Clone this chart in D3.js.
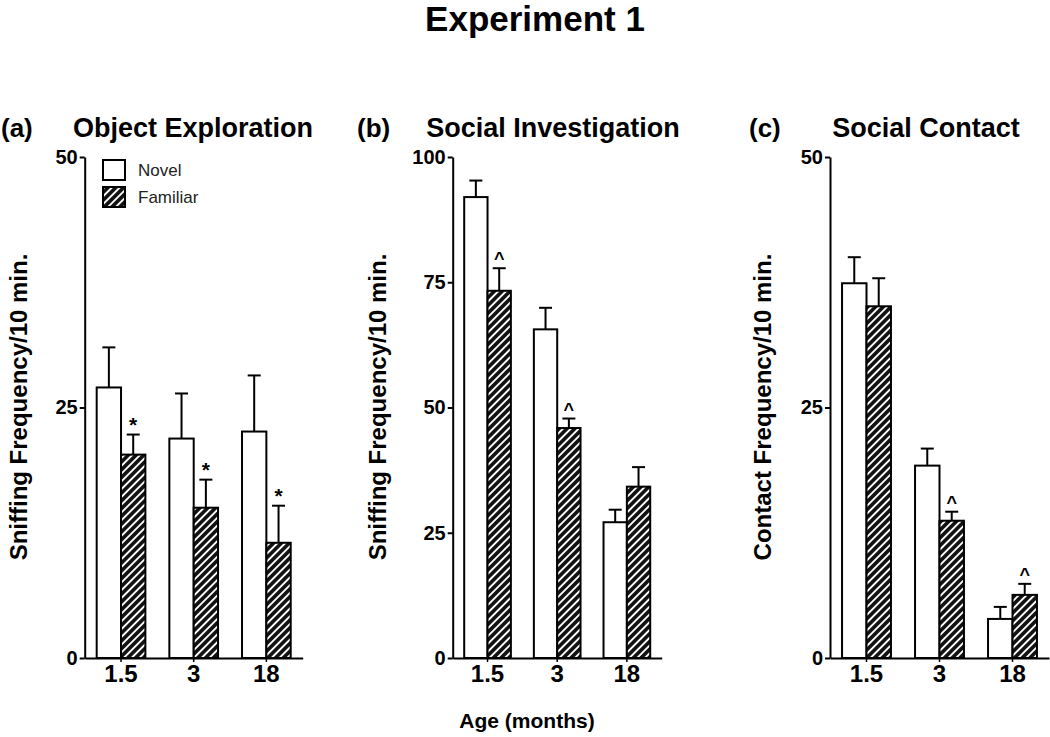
<!DOCTYPE html>
<html><head><meta charset="utf-8">
<script src="https://cdn.jsdelivr.net/npm/d3@7"></script>
<style>body{margin:0;background:#fff}svg{display:block}text{font-family:"Liberation Sans",Arial,sans-serif}</style>
</head><body><svg id="c" width="1050" height="737"></svg>
<script>
const categories = ["1.5", "3", "18"];
const seriesNames = ["Novel", "Familiar"];
// (a) Object Exploration
const objNovel = [27.0, 21.9, 22.6];
const objNovelErr = [4.0, 4.5, 5.6];
const objFamiliar = [20.3, 15.0, 11.5];
const objFamiliarErr = [2.0, 2.8, 3.7];
const objMarks = ["*", "*", "*"];
const objTicks = [0, 25, 50];
// (b) Social Investigation
const invNovel = [92.0, 65.6, 27.1];
const invNovelErr = [3.3, 4.3, 2.5];
const invFamiliar = [73.3, 45.9, 34.2];
const invFamiliarErr = [4.5, 1.9, 3.9];
const invMarks = ["^", "^", ""];
const invTicks = [0, 25, 50, 75, 100];
// (c) Social Contact
const conNovel = [37.4, 19.2, 3.9];
const conNovelErr = [2.6, 1.7, 1.2];
const conFamiliar = [35.1, 13.7, 6.3];
const conFamiliarErr = [2.8, 0.9, 1.1];
const conMarks = ["", "^", "^"];
const conTicks = [0, 25, 50];

const svg = d3.select("#c");
const defs = svg.append("defs");
const pat = defs.append("pattern").attr("id","hatch").attr("patternUnits","userSpaceOnUse")
  .attr("width",5.5).attr("height",5.5).attr("patternTransform","rotate(45)");
pat.append("rect").attr("width",5.5).attr("height",5.5).attr("fill","#111");
pat.append("line").attr("x1",2.75).attr("x2",2.75).attr("y1",-1).attr("y2",7).attr("stroke","#fff").attr("stroke-width",1.9);

const yTop = 157, yBot = 658;

svg.append("text").attr("x",535).attr("y",31).attr("text-anchor","middle")
  .attr("font-size",35).attr("font-weight","bold").text("Experiment 1");

svg.append("text").attr("x",527).attr("y",728).attr("text-anchor","middle")
  .attr("font-size",21).attr("font-weight","bold").text("Age (months)");

const panels = [
  {tag:"(a)", tagX:1, title:"Object Exploration", titleX:193, axisX:84.7, width:218, max:50, ticks:objTicks,
   novel:objNovel, novelErr:objNovelErr, fam:objFamiliar, famErr:objFamiliarErr, marks:objMarks,
   ylabel:"Sniffing Frequency/10 min.", ylabelX:27, legend:true},
  {tag:"(b)", tagX:357, title:"Social Investigation", titleX:553, axisX:452.7, width:209, max:100, ticks:invTicks,
   novel:invNovel, novelErr:invNovelErr, fam:invFamiliar, famErr:invFamiliarErr, marks:invMarks,
   ylabel:"Sniffing Frequency/10 min.", ylabelX:386, legend:false},
  {tag:"(c)", tagX:749, title:"Social Contact", titleX:926, axisX:830, width:219, max:50, ticks:conTicks,
   novel:conNovel, novelErr:conNovelErr, fam:conFamiliar, famErr:conFamiliarErr, marks:conMarks,
   ylabel:"Contact Frequency/10 min.", ylabelX:771, legend:false}
];

panels.forEach(p => {
  const g = svg.append("g");
  g.append("text").attr("x",p.tagX).attr("y",137).attr("font-size",26).attr("font-weight","bold").text(p.tag);
  g.append("text").attr("x",p.titleX).attr("y",137).attr("text-anchor","middle").attr("font-size",27).attr("font-weight","bold").text(p.title);

  const x = d3.scaleBand().domain(categories).range([p.axisX, p.axisX + p.width]).paddingInner(0.33).paddingOuter(0.165);
  const xs = d3.scaleBand().domain(seriesNames).range([0, x.bandwidth()]);
  const y = d3.scaleLinear().domain([0, p.max]).range([yBot, yTop]);

  const rows = categories.map((c,i) => [
    {c, s:"Novel", v:p.novel[i], e:p.novelErr[i], m:""},
    {c, s:"Familiar", v:p.fam[i], e:p.famErr[i], m:p.marks[i]}
  ]).flat();

  // error bars (behind bars)
  const eg = g.append("g").attr("stroke","#000").attr("stroke-width",2);
  rows.forEach(d => {
    const cx = x(d.c) + xs(d.s) + xs.bandwidth()/2;
    eg.append("line").attr("x1",cx).attr("x2",cx).attr("y1",y(d.v)).attr("y2",y(d.v+d.e));
    eg.append("line").attr("x1",cx-6.5).attr("x2",cx+6.5).attr("y1",y(d.v+d.e)).attr("y2",y(d.v+d.e));
  });

  g.append("g").selectAll("rect").data(rows).join("rect")
    .attr("x", d => x(d.c) + xs(d.s))
    .attr("y", d => y(d.v))
    .attr("width", xs.bandwidth())
    .attr("height", d => y(0) - y(d.v))
    .attr("fill", d => d.s === "Novel" ? "#fff" : "url(#hatch)")
    .attr("stroke","#000").attr("stroke-width",2);

  g.append("g").selectAll("text").data(rows.filter(d => d.m)).join("text")
    .attr("x", d => x(d.c) + xs(d.s) + xs.bandwidth()/2)
    .attr("y", d => y(d.v+d.e) + (d.m === "*" ? -3 : -3))
    .attr("text-anchor","middle")
    .attr("font-size", d => d.m === "*" ? 21 : 18)
    .attr("font-weight","bold")
    .text(d => d.m);

  // y axis
  const ya = g.append("g").attr("transform",`translate(${p.axisX},0)`)
    .call(d3.axisLeft(y).tickValues(p.ticks).tickSize(5).tickSizeOuter(0).tickPadding(2));
  ya.select(".domain").attr("stroke","#000").attr("stroke-width",2);
  ya.selectAll(".tick line").attr("stroke","#000").attr("stroke-width",2);
  ya.selectAll(".tick text").attr("font-size",20).attr("font-weight","bold").attr("fill","#000")
    .style("font-family","'Liberation Sans',Arial,sans-serif");

  // x axis
  const xa = g.append("g").attr("transform",`translate(0,${yBot})`)
    .call(d3.axisBottom(x).tickSize(4).tickSizeOuter(0).tickPadding(3));
  xa.select(".domain").attr("stroke","#000").attr("stroke-width",2);
  xa.selectAll(".tick line").attr("stroke","#000").attr("stroke-width",1.5);
  xa.selectAll(".tick text").attr("font-size",24).attr("font-weight","bold").attr("fill","#000")
    .style("font-family","'Liberation Sans',Arial,sans-serif");

  g.append("text").attr("transform",`translate(${p.ylabelX},${407}) rotate(-90)`)
    .attr("text-anchor","middle").attr("font-size",24).attr("font-weight","bold").text(p.ylabel);

  if (p.legend) {
    const lg = g.append("g");
    const items = [{s:"Novel", fill:"#fff", y:160}, {s:"Familiar", fill:"url(#hatch)", y:187}];
    items.forEach(it => {
      lg.append("rect").attr("x",103).attr("y",it.y).attr("width",22).attr("height",20)
        .attr("fill",it.fill).attr("stroke","#000").attr("stroke-width",2);
      lg.append("text").attr("x",138).attr("y",it.y+16).attr("font-size",17).attr("fill","#222").text(it.s);
    });
  }
});
</script></body></html>
